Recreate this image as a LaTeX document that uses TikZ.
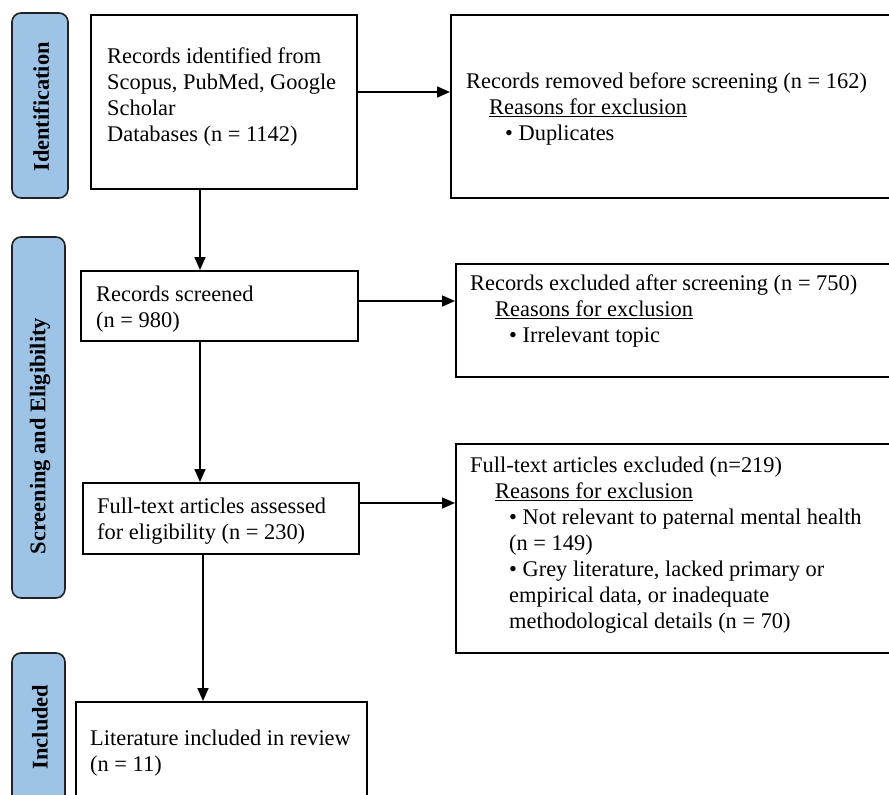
\documentclass[tikz,border=0pt]{standalone}
\usepackage{fontspec}
\setmainfont{Liberation Serif}
\usetikzlibrary{arrows.meta}
\definecolor{stagefill}{HTML}{9DC3E6}
\definecolor{stageline}{HTML}{222222}
\tikzset{
  box/.style={draw, line width=1.7pt, anchor=north west, inner sep=0pt},
  txt/.style={anchor=north west, align=left, inner sep=0pt, font=\fontsize{22.4}{26}\selectfont},
  stage/.style={draw=stageline, line width=1.6pt, fill=stagefill, rounded corners=9pt},
  stagelbl/.style={rotate=90, inner sep=0pt, font=\fontsize{22.4}{26}\selectfont\bfseries},
  arr/.style={-{Triangle[length=13pt,width=11pt]}, line width=1.6pt}
}
\newcommand{\reasons}[1]{\hspace*{#1pt}\underline{Reasons for exclusion}}
\begin{document}
\begin{tikzpicture}[x=1pt, y=-1pt]
  \useasboundingbox (0,0) rectangle (889,795);
  \clip (0,0) rectangle (889,795);
  % stage bars
  \draw[stage] (12,13) rectangle (68,198);
  \draw[stage] (12,237) rectangle (65,598);
  \draw[stage] (12,653) rectangle (65,840);
  \node[stagelbl] (lblid) at (41,107) {Identification};
  \node[stagelbl] (lblscr) at (40,436) {Screening and Eligibility};
  \node[stagelbl] (lblinc) at (40,727) {Included};
  % boxes
  \node[box, minimum width=266, minimum height=174] (ident) at (90,14) {};
  \node[box, minimum width=460, minimum height=183] (removed) at (450,14) {};
  \node[box, minimum width=277, minimum height=70] (screen) at (80,270) {};
  \node[box, minimum width=455, minimum height=113] (exscreen) at (455,263) {};
  \node[box, minimum width=276, minimum height=71] (assess) at (82,482) {};
  \node[box, minimum width=455, minimum height=209] (exfull) at (455,443) {};
  \node[box, minimum width=291, minimum height=140] (incl) at (75,701) {};
  % texts
  \node[txt] (tident) at (107,48) {Records identified from\\Scopus, PubMed, Google\\Scholar\\Databases (n = 1142)};
  \node[txt] (tremoved) at (466,73) {Records removed before screening (n = 162)\\\reasons{23}\\\hspace*{39pt}• Duplicates};
  \node[txt] (tscreen) at (96,286) {Records screened\\(n = 980)};
  \node[txt] (texscreen) at (470,275) {Records excluded after screening (n = 750)\\\reasons{25}\\\hspace*{39pt}• Irrelevant topic};
  \node[txt] (tassess) at (97,498) {Full-text articles assessed\\for eligibility (n = 230)};
  \node[txt] (texfull) at (470,457) {Full-text articles excluded (n=219)\\\reasons{25}\\
    \hspace*{39pt}• Not relevant to paternal mental health\\\hspace*{39pt}(n = 149)\\
    \hspace*{39pt}• Grey literature, lacked primary or\\\hspace*{39pt}empirical data, or inadequate\\
    \hspace*{39pt}methodological details (n = 70)};
  \node[txt] (tincl) at (90,730) {Literature included in review\\(n = 11)};
  % arrows
  \draw[arr] (ident.east |- 0,92) -- (removed.west |- 0,92);
  \draw[arr] (screen.east |- 0,301) -- (exscreen.west |- 0,301);
  \draw[arr] (assess.east |- 0,503) -- (exfull.west |- 0,503);
  \draw[arr] (ident.south -| 200,0) -- (screen.north -| 200,0);
  \draw[arr] (screen.south -| 200,0) -- (assess.north -| 200,0);
  \draw[arr] (assess.south -| 203,0) -- (incl.north -| 203,0);
\end{tikzpicture}
\end{document}
